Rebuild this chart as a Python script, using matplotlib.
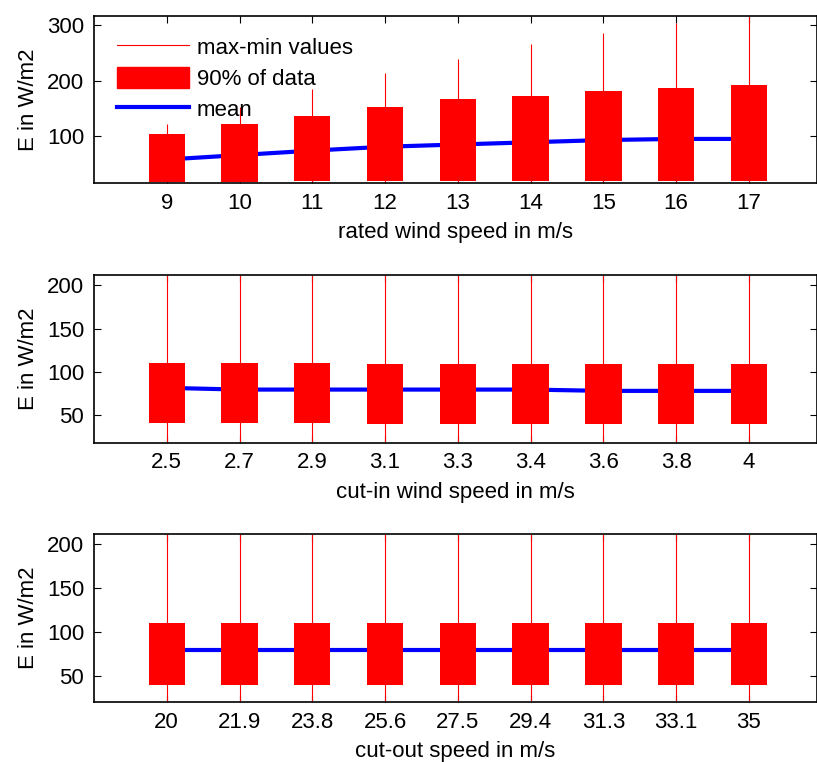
import numpy as np
import matplotlib
matplotlib.use('Agg')
import matplotlib.pyplot as plt
from matplotlib.lines import Line2D
from matplotlib.patches import Patch

plt.rcParams['font.family'] = ['Liberation Sans', 'DejaVu Sans']

font_size = 16

# rated wind speed
rated_labels = ['9', '10', '11', '12', '13', '14', '15', '16', '17']
rated_min = [8, 8, 9, 9, 9, 9, 9, 9, 9]
rated_p5 = [17, 17, 20, 20, 20, 20, 20, 20, 20]
rated_p95 = [103, 121, 137, 152, 166, 173, 182, 187, 192]
rated_max = [122, 152, 184, 213, 238, 265, 286, 303, 330]
rated_mean = [58, 66, 74, 81, 85, 89, 93, 95, 95]

# cut-in wind speed
cutin_labels = ['2.5', '2.7', '2.9', '3.1', '3.3', '3.4', '3.6', '3.8', '4']
cutin_min = [10, 10, 10, 10, 10, 10, 10, 10, 10]
cutin_p5 = [41, 41, 41, 39.5, 39.5, 39.5, 39.5, 39.5, 39.5]
cutin_p95 = [110, 110, 110, 109, 109, 109, 109, 109, 109]
cutin_max = [240, 240, 240, 240, 240, 240, 240, 240, 240]
cutin_mean = [81.5, 79.5, 79.5, 79.5, 79.5, 79.5, 78, 78, 78]

# cut-out speed
cutout_labels = ['20', '21.9', '23.8', '25.6', '27.5', '29.4', '31.3', '33.1', '35']
cutout_min = [10, 10, 10, 10, 10, 10, 10, 10, 10]
cutout_p5 = [40, 40, 40, 40, 40, 40, 40, 40, 40]
cutout_p95 = [110, 110, 110, 110, 110, 110, 110, 110, 110]
cutout_max = [240, 240, 240, 240, 240, 240, 240, 240, 240]
cutout_mean = [80, 80, 80, 80, 80, 80, 80, 80, 80]

panels = [
    (rated_labels, rated_min, rated_p5, rated_p95, rated_max, rated_mean,
     'rated wind speed in m/s', (16, 316), [100, 200, 300]),
    (cutin_labels, cutin_min, cutin_p5, cutin_p95, cutin_max, cutin_mean,
     'cut-in wind speed in m/s', (18, 212), [50, 100, 150, 200]),
    (cutout_labels, cutout_min, cutout_p5, cutout_p95, cutout_max, cutout_mean,
     'cut-out speed in m/s', (21, 211), [50, 100, 150, 200]),
]

fig = plt.figure(figsize=(8.17, 7.62), dpi=100)
rects = [[0.115, 0.760, 0.8845, 0.219],
         [0.115, 0.419, 0.8845, 0.220],
         [0.115, 0.079, 0.8845, 0.220]]

for rect, (labels, vmin, p5, p95, vmax, mean, xlabel, ylim, yticks) in zip(rects, panels):
    ax = fig.add_axes(rect)
    x = np.arange(1, len(labels) + 1)
    ax.plot(x, mean, color='blue', lw=3, zorder=1)
    ax.vlines(x, vmin, vmax, color='red', lw=0.8, zorder=2)
    ax.bar(x, np.array(p95) - np.array(p5), bottom=p5, width=0.5, color='red', zorder=3)
    ax.set_xlim(0, 9.93)
    ax.set_ylim(*ylim)
    ax.set_xticks(x, labels)
    ax.set_yticks(yticks)
    ax.tick_params(direction='in', length=5, width=0.8, top=True, right=True,
                   labelsize=font_size, pad=7)
    ax.set_xlabel(xlabel, fontsize=font_size, labelpad=6)
    ax.set_ylabel('E in W/m2', fontsize=font_size, labelpad=6)
    for s in ax.spines.values():
        s.set_linewidth(1.2)

    if xlabel.startswith('rated'):
        handles = [Line2D([], [], color='red', lw=0.8),
                   Patch(color='red'),
                   Line2D([], [], color='blue', lw=3)]
        ax.legend(handles, ['max-min values', '90% of data', 'mean'],
                  loc='upper left', bbox_to_anchor=(0.004, 1.0), frameon=False,
                  fontsize=font_size, handlelength=3.25, handleheight=1.05,
                  labelspacing=0.36, handletextpad=0.35)

fig.savefig('out.png', dpi=100)
